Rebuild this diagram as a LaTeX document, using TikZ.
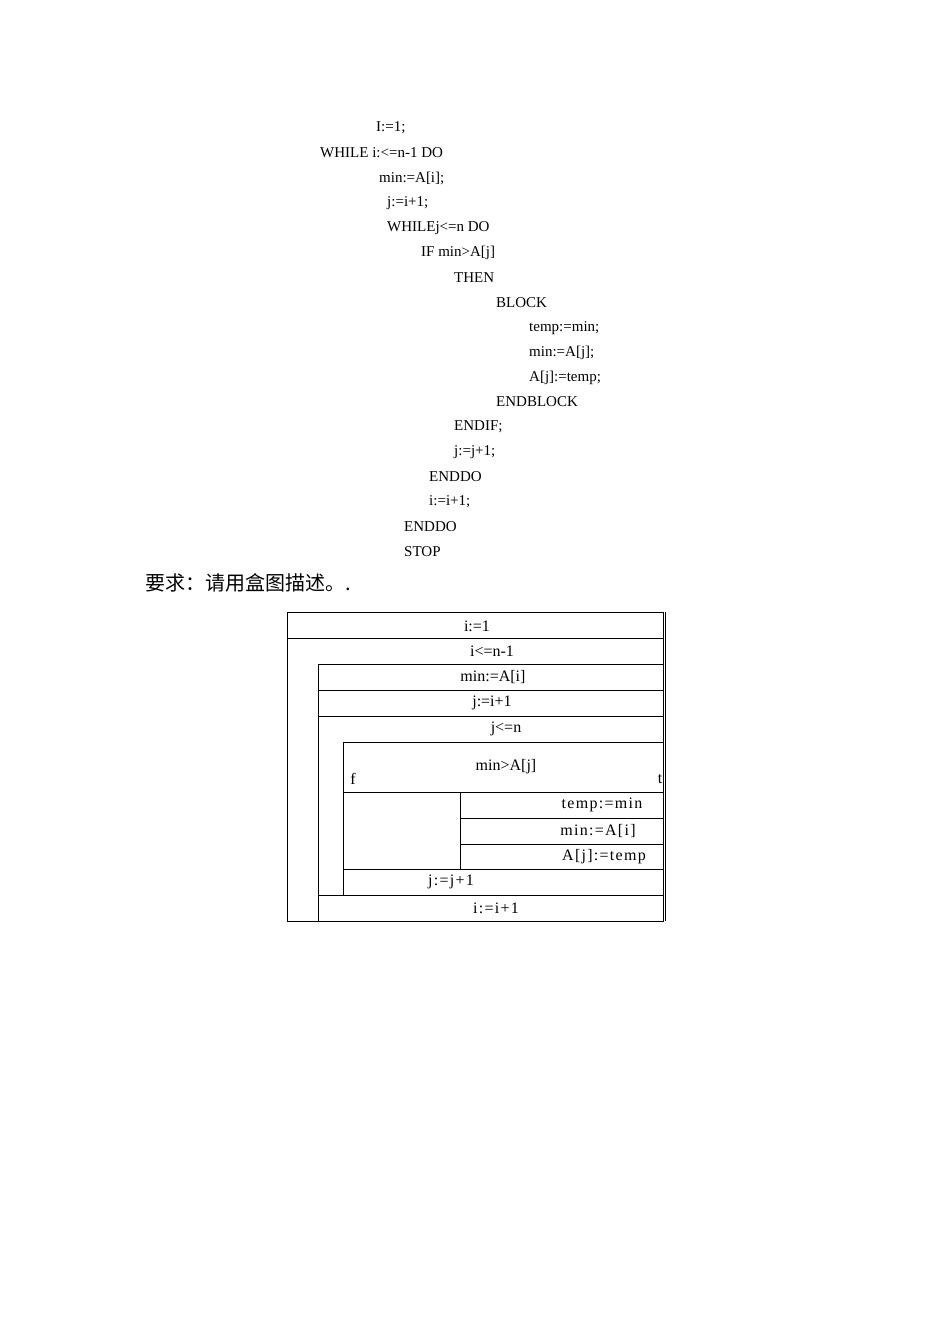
\documentclass[tikz,border=0pt]{standalone}
\usepackage{fontspec}
\setmainfont{Liberation Serif}
\newfontfamily\cjk{Noto Sans CJK SC}
\begin{document}
\begin{tikzpicture}[x=1pt,y=-1pt,
  code/.style={anchor=west,inner sep=0,font=\fontsize{15}{15}\selectfont},
  cell/.style={inner sep=0,font=\fontsize{16}{16}\selectfont},
  wide/.style={inner sep=0,font=\fontsize{16}{16}\selectfont\addfontfeature{LetterSpace=8}},
  ln/.style={line width=0.8pt}]
\useasboundingbox (0,0) rectangle (950,1344);
\node[code] (c1) at (376,128) {I:=1;};
\node[code] (c2) at (320,153) {WHILE i:<=n-1 DO};
\node[code] (c3) at (379,178) {min:=A[i];};
\node[code] (c4) at (387,203) {j:=i+1;};
\node[code] (c5) at (387,228) {WHILEj<=n DO};
\node[code] (c6) at (421,253) {IF min>A[j]};
\node[code] (c7) at (454,278) {THEN};
\node[code] (c8) at (496,303) {BLOCK};
\node[code] (c9) at (529,328) {temp:=min;};
\node[code] (c10) at (529,353) {min:=A[j];};
\node[code] (c11) at (529,378) {A[j]:=temp;};
\node[code] (c12) at (496,402) {ENDBLOCK};
\node[code] (c13) at (454,427) {ENDIF;};
\node[code] (c14) at (454,452) {j:=j+1;};
\node[code] (c15) at (429,477) {ENDDO};
\node[code] (c16) at (429,502) {i:=i+1;};
\node[code] (c17) at (404,527) {ENDDO};
\node[code] (c18) at (404,552) {STOP};
\node[anchor=west,inner sep=0,font=\cjk\fontsize{20}{20}\selectfont] (req) at (145,583) {要求：请用盒图描述。.};
% box diagram
\draw[ln] (287,612) rectangle (663,921);
\draw[ln] (665,612) -- (665,921);
\draw[ln] (287,638) -- (663,638);
\draw[ln] (318,664) -- (663,664);
\draw[ln] (318,664) -- (318,921);
\draw[ln] (318,690) -- (663,690);
\draw[ln] (318,716) -- (663,716);
\draw[ln] (343,742) -- (663,742);
\draw[ln] (343,742) -- (343,895);
\draw[ln] (343,792) -- (663,792);
\draw[ln] (460,792) -- (460,869);
\draw[ln] (460,818) -- (663,818);
\draw[ln] (460,844) -- (663,844);
\draw[ln] (343,869) -- (663,869);
\draw[ln] (318,895) -- (663,895);
\node[cell] (b1) at (477,626) {i:=1};
\node[cell] (b2) at (492,651) {i<=n-1};
\node[cell] (b3) at (493,677) {min:=A[i]};
\node[cell] (b4) at (492,703) {j:=i+1};
\node[cell] (b5) at (506,729) {j<=n};
\node[cell] (b6) at (506,767) {min>A[j]};
\node[cell] (bf) at (353,779) {f};
\node[cell] (bt) at (660,779) {t};
\node[wide] (b7) at (602,805) {temp:=min};
\node[wide] (b8) at (598,831) {min:=A[i]};
\node[wide] (b9) at (604,857) {A[j]:=temp};
\node[wide] (b10) at (451,882) {j:=j+1};
\node[wide] (b11) at (496,908) {i:=i+1};
\end{tikzpicture}
\end{document}
